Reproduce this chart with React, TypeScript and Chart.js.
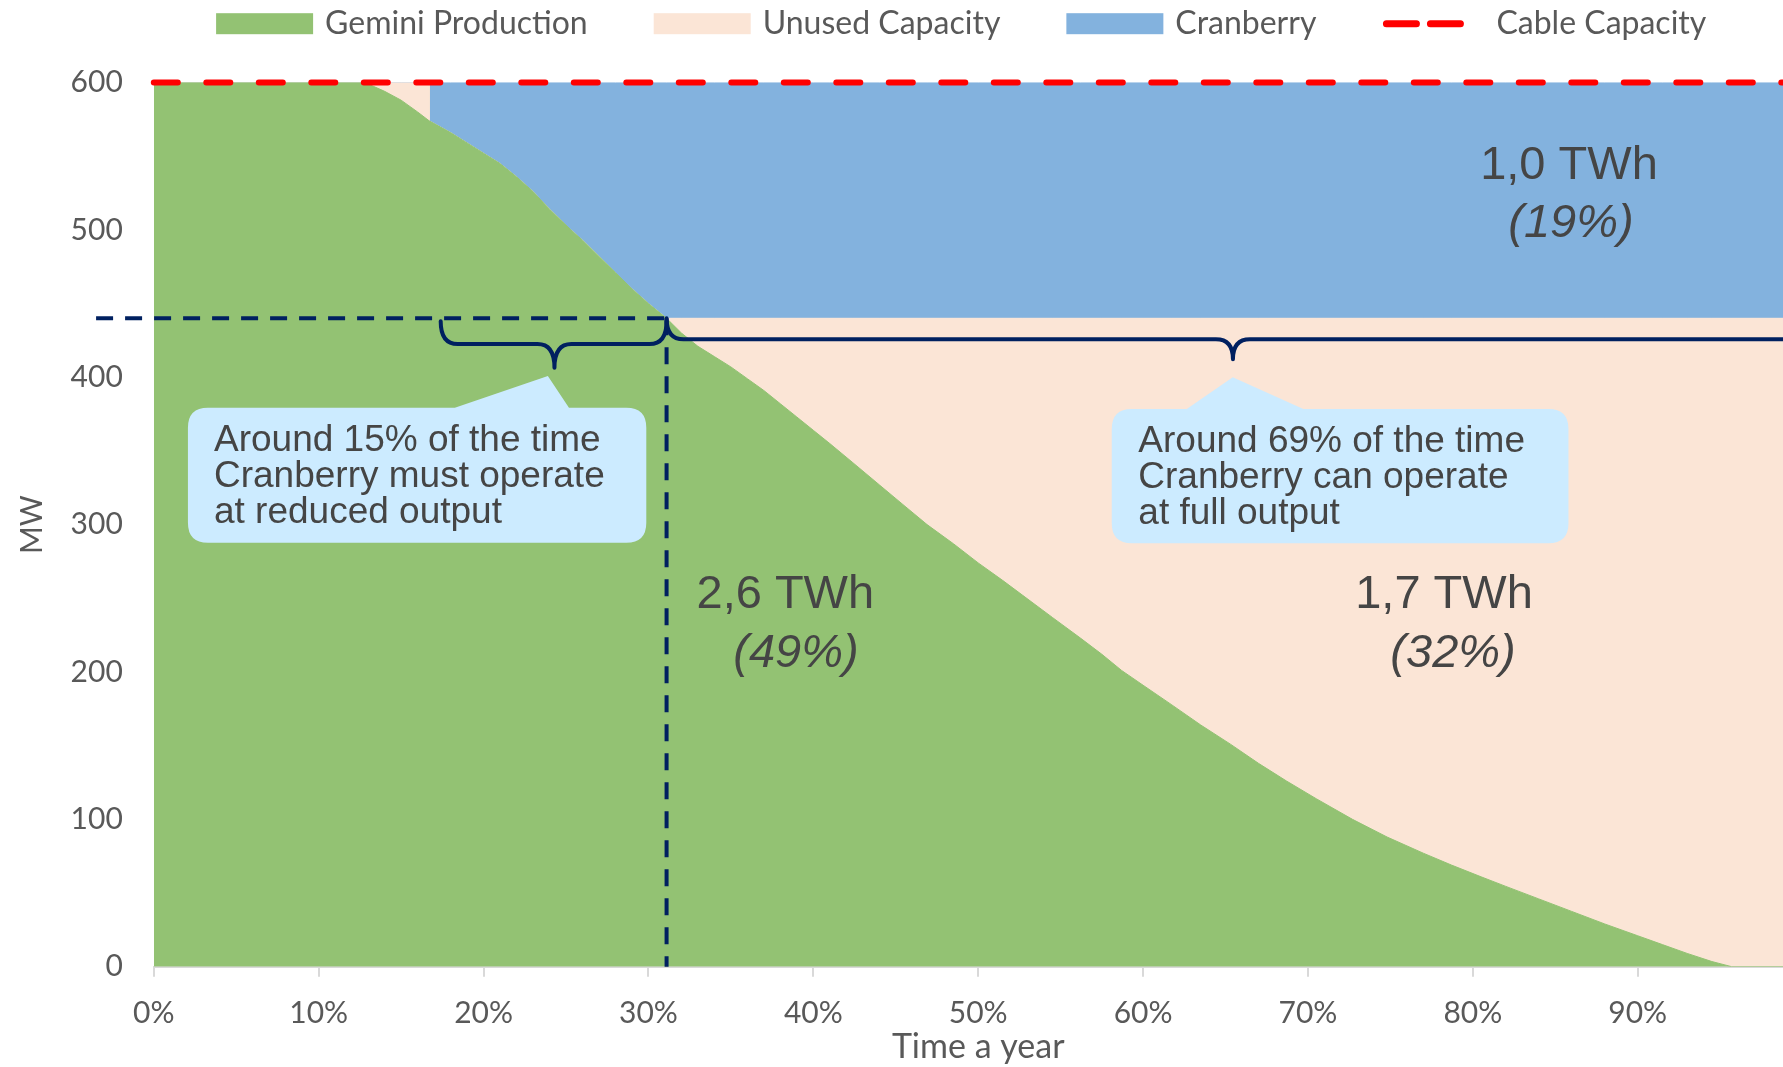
import React, { useEffect, useRef } from "react";
import { Chart, registerables } from "chart.js";

Chart.register(...registerables);

// ---- data (share of the year in %, power in MW) ----
const timeShare = [
  0, 12.8, 14, 15, 16, 16.7, 16.7, 18, 19, 20,
  21, 22, 23, 24, 25.3, 26, 27, 28, 29, 30,
  31.1, 32, 33, 34, 35, 36, 37, 38, 39, 40,
  41, 42.4, 44, 45.5, 46.9, 48.5, 50, 51.5, 52.7, 54.5,
  56.2, 57.5, 58.7, 60, 61.7, 63.5, 65.3, 67, 68.7, 70.5,
  72.7, 74.8, 77, 78.7, 80.5, 82, 84, 86, 88, 90,
  91.5, 93, 94.5, 95.7, 100,
];
const geminiMW = [
  600, 600, 594, 588, 580, 574, 574, 566, 559, 552,
  545, 536, 526, 514, 500, 493, 482, 471, 460, 450,
  440, 430, 421, 414, 407, 399, 391, 382, 373, 364,
  355, 342, 327, 313, 300, 287, 274, 262, 252, 237,
  223, 212, 201, 191, 178, 164, 151, 138, 126, 114,
  100, 88, 77, 69, 61, 54.5, 46, 37.5, 29, 21,
  15, 9, 3.5, 0, 0,
];
const unusedMW = [
  0, 0, 6, 12, 20, 26, 0, 0, 0, 0,
  0, 0, 0, 0, 0, 0, 0, 0, 0, 0,
  0, 10, 19, 26, 33, 41, 49, 58, 67, 76,
  85, 98, 113, 127, 140, 153, 166, 178, 188, 203,
  217, 228, 239, 249, 262, 276, 289, 302, 314, 326,
  340, 352, 363, 371, 379, 385.5, 394, 402.5, 411, 419,
  425, 431, 436.5, 440, 440,
];
const cranberryMW = [
  0, 0, 0, 0, 0, 0, 26, 34, 41, 48,
  55, 64, 74, 86, 100, 107, 118, 129, 140, 150,
  160, 160, 160, 160, 160, 160, 160, 160, 160, 160,
  160, 160, 160, 160, 160, 160, 160, 160, 160, 160,
  160, 160, 160, 160, 160, 160, 160, 160, 160, 160,
  160, 160, 160, 160, 160, 160, 160, 160, 160, 160,
  160, 160, 160, 160, 160,
];
const cableShare = [0, 100];
const cableMW = [600, 600];

const seriesLabels = ["Gemini Production", "Unused Capacity", "Cranberry", "Cable Capacity"];
const xTickValues = [0, 10, 20, 30, 40, 50, 60, 70, 80, 90];

// ---- annotations (in data units) ----
const thresholdMW = 440;
const splitShare = 31.1;
const dashStartShare = -3.5;
const braceLeft = { from: 17.4, to: 31.1, tip: 24.3, top: 438, bar: 422.5, tipY: 406.5 };
const braceRight = { from: 31.1, to: 106, tip: 65.45, top: 440, bar: 425.7, tipY: 412.2 };
const calloutLeft = {
  x0: 2.07, x1: 29.87, yTop: 379.3, yBot: 287.6,
  b0: 18.26, b1: 25.18, tipX: 23.9, tipY: 400.9,
  textX: 3.65, textY: 350.1,
  lines: ["Around 15% of the time", "Cranberry must operate", "at reduced output"],
};
const calloutRight = {
  x0: 58.1, x1: 85.8, yTop: 378.4, yBot: 287.3,
  b0: 62.65, b1: 69.72, tipX: 65.44, tipY: 400,
  textX: 59.71, textY: 349.4,
  lines: ["Around 69% of the time", "Cranberry can operate", "at full output"],
};
const energyLabels = [
  { main: "1,0 TWh", pct: "(19%)", x: 85.83, px: 85.95, y: 534.5, py: 495.2 },
  { main: "2,6 TWh", pct: "(49%)", x: 38.3, px: 38.95, y: 243.2, py: 203.6 },
  { main: "1,7 TWh", pct: "(32%)", x: 78.25, px: 78.8, y: 243.2, py: 203.6 },
];

// ---- styles ----
const GREEN = "#93C273";
const PEACH = "#FBE5D6";
const BLUE = "#83B2DE";
const RED = "#FF0000";
const NAVY = "#002060";
const CALLOUT = "#CCEBFF";
const TEXT_DARK = "#454545";
const AXIS_TEXT = "#595959";
const AXIS_FONT = "Lato";
const NOTE_FONT = "'Liberation Sans', Arial, sans-serif";

function pts(xs: number[], ys: number[]) {
  return xs.map((x, i) => ({ x, y: ys[i] }));
}

function drawBrace(ctx: CanvasRenderingContext2D, px: (v: number) => number, py: (v: number) => number, b: any) {
  const x0 = px(b.from), x1 = px(b.to), xm = px(b.tip);
  const yTop = py(b.top), yBar = py(b.bar), yTip = py(b.tipY);
  const r = 17;
  ctx.beginPath();
  ctx.moveTo(x0, yTop);
  ctx.quadraticCurveTo(x0, yBar, x0 + r, yBar);
  ctx.lineTo(xm - r, yBar);
  ctx.quadraticCurveTo(xm, yBar, xm, yTip);
  ctx.quadraticCurveTo(xm, yBar, xm + r, yBar);
  ctx.lineTo(x1 - r, yBar);
  ctx.quadraticCurveTo(x1, yBar, x1, yTop);
  ctx.stroke();
}

function drawCallout(ctx: CanvasRenderingContext2D, px: (v: number) => number, py: (v: number) => number, c: any) {
  const x0 = px(c.x0), x1 = px(c.x1), y0 = py(c.yTop), y1 = py(c.yBot);
  const r = 20;
  ctx.fillStyle = CALLOUT;
  ctx.beginPath();
  ctx.moveTo(x0 + r, y0);
  ctx.lineTo(px(c.b0), y0);
  ctx.lineTo(px(c.tipX), py(c.tipY));
  ctx.lineTo(px(c.b1), y0);
  ctx.lineTo(x1 - r, y0);
  ctx.quadraticCurveTo(x1, y0, x1, y0 + r);
  ctx.lineTo(x1, y1 - r);
  ctx.quadraticCurveTo(x1, y1, x1 - r, y1);
  ctx.lineTo(x0 + r, y1);
  ctx.quadraticCurveTo(x0, y1, x0, y1 - r);
  ctx.lineTo(x0, y0 + r);
  ctx.quadraticCurveTo(x0, y0, x0 + r, y0);
  ctx.closePath();
  ctx.fill();
  ctx.fillStyle = TEXT_DARK;
  ctx.font = `37px ${NOTE_FONT}`;
  ctx.textAlign = "left";
  ctx.textBaseline = "alphabetic";
  const tx = px(c.textX);
  const ty = py(c.textY);
  c.lines.forEach((line: string, i: number) => ctx.fillText(line, tx, ty + i * 36));
}

const annotationPlugin = {
  id: "annotations",
  afterDraw(chart: any) {
    const { ctx, scales } = chart;
    const xs = scales.x, ys = scales.y;
    const px = (v: number) => xs.getPixelForValue(v);
    const py = (v: number) => ys.getPixelForValue(v);
    ctx.save();

    // threshold dashed lines
    ctx.strokeStyle = NAVY;
    ctx.lineWidth = 4;
    ctx.setLineDash([17, 12]);
    ctx.beginPath();
    ctx.moveTo(px(dashStartShare), py(thresholdMW));
    ctx.lineTo(px(splitShare), py(thresholdMW));
    ctx.stroke();
    ctx.beginPath();
    ctx.moveTo(px(splitShare), py(thresholdMW));
    ctx.lineTo(px(splitShare), py(0));
    ctx.stroke();
    ctx.setLineDash([]);

    // braces
    ctx.lineWidth = 4;
    ctx.lineCap = "round";
    ctx.lineJoin = "round";
    drawBrace(ctx, px, py, braceLeft);
    drawBrace(ctx, px, py, braceRight);

    // callouts
    drawCallout(ctx, px, py, calloutLeft);
    drawCallout(ctx, px, py, calloutRight);

    // energy labels
    ctx.fillStyle = TEXT_DARK;
    ctx.textAlign = "center";
    ctx.textBaseline = "alphabetic";
    energyLabels.forEach((l) => {
      ctx.font = `47px ${NOTE_FONT}`;
      ctx.fillText(l.main, px(l.x), py(l.y));
      ctx.font = `italic 47px ${NOTE_FONT}`;
      ctx.fillText(l.pct, px(l.px), py(l.py));
    });

    // legend
    ctx.font = `32px ${AXIS_FONT}`;
    const BOX_W = 97, BOX_H = 21, BOX_GAP = 12, LINE_W = 82, LINE_GAP = 32, ITEM_GAP = 66;
    const items = chart.data.datasets.map((ds: any) => ({
      label: ds.label,
      isLine: ds.stack === "cable",
      color: ds.stack === "cable" ? ds.borderColor : ds.backgroundColor,
    }));
    const widths = items.map((it: any) => (it.isLine ? LINE_W + LINE_GAP : BOX_W + BOX_GAP) + ctx.measureText(it.label).width);
    const total = widths.reduce((a: number, b: number) => a + b, 0) + ITEM_GAP * (items.length - 1);
    const legendCenter = (chart.chartArea.left + chart.chartArea.right) / 2 - 17;
    let cx = legendCenter - total / 2;
    const midY = 23.7;
    items.forEach((it: any, i: number) => {
      if (it.isLine) {
        ctx.strokeStyle = it.color;
        ctx.lineWidth = 7;
        ctx.lineCap = "round";
        ctx.setLineDash([30, 14]);
        ctx.beginPath();
        ctx.moveTo(cx + 4, midY);
        ctx.lineTo(cx + LINE_W - 4, midY);
        ctx.stroke();
        ctx.setLineDash([]);
      } else {
        ctx.fillStyle = it.color;
        ctx.fillRect(cx, midY - BOX_H / 2, BOX_W, BOX_H);
      }
      ctx.fillStyle = AXIS_TEXT;
      ctx.textAlign = "left";
      ctx.textBaseline = "alphabetic";
      ctx.fillText(it.label, cx + (it.isLine ? LINE_W + LINE_GAP : BOX_W + BOX_GAP), 34);
      cx += widths[i] + ITEM_GAP;
    });

    ctx.restore();
  },
};

export default function App() {
  const ref = useRef<HTMLCanvasElement>(null);
  useEffect(() => {
    const canvas = ref.current;
    if (!canvas) return;
    const chart = new Chart(canvas, {
      type: "line",
      data: {
        datasets: [
          {
            label: seriesLabels[0],
            data: pts(timeShare, geminiMW),
            backgroundColor: GREEN,
            borderColor: GREEN,
            borderWidth: 1,
            fill: "origin",
            pointRadius: 0,
            stack: "supply",
          },
          {
            label: seriesLabels[1],
            data: pts(timeShare, unusedMW),
            backgroundColor: PEACH,
            borderColor: PEACH,
            borderWidth: 1,
            fill: "-1",
            pointRadius: 0,
            stack: "supply",
          },
          {
            label: seriesLabels[2],
            data: pts(timeShare, cranberryMW),
            backgroundColor: BLUE,
            borderColor: BLUE,
            borderWidth: 1,
            fill: "-1",
            pointRadius: 0,
            stack: "supply",
          },
          {
            label: seriesLabels[3],
            data: pts(cableShare, cableMW),
            borderColor: RED,
            backgroundColor: RED,
            borderWidth: 6,
            borderDash: [24, 28.5],
            borderCapStyle: "round",
            fill: false,
            pointRadius: 0,
            stack: "cable",
            order: -1,
            clip: false,
          },
        ] as any,
      },
      options: {
        responsive: false,
        animation: false,
        layout: { padding: { top: 82.5, right: 9.4, left: 0, bottom: 0 } },
        plugins: { legend: { display: false }, tooltip: { enabled: false } },
        elements: { line: { tension: 0 }, point: { radius: 0 } },
        scales: {
          x: {
            type: "linear",
            min: 0,
            max: 100,
            z: 1,
            afterBuildTicks: (s: any) => {
              s.ticks = xTickValues.map((v) => ({ value: v }));
            },
            ticks: {
              callback: (v: any) => `${v}%`,
              color: AXIS_TEXT,
              font: { family: AXIS_FONT, size: 30 },
              padding: 19,
              maxRotation: 0,
              autoSkip: false,
            },
            grid: { drawOnChartArea: false, drawTicks: true, tickLength: 10, color: "#D9D9D9", lineWidth: 2 },
            border: { display: true, color: "#D9D9D9", width: 2 },
            title: {
              display: true,
              text: "Time a year",
              color: AXIS_TEXT,
              font: { family: AXIS_FONT, size: 34 },
              padding: { top: 0, bottom: 0 },
            },
            afterFit: (s: any) => {
              s.height = 100.3;
            },
          },
          y: {
            type: "linear",
            min: 0,
            max: 600,
            stacked: true,
            z: 1,
            ticks: {
              stepSize: 100,
              color: AXIS_TEXT,
              font: { family: AXIS_FONT, size: 30 },
              padding: 31,
            },
            grid: {
              drawTicks: false,
              lineWidth: 2,
              color: (c: any) => (c.tick && (c.tick.value === 0 || c.tick.value === 600) ? "rgba(0,0,0,0)" : "rgba(0,0,0,0.08)"),
            },
            border: { display: false },
            title: {
              display: true,
              text: "MW",
              color: AXIS_TEXT,
              font: { family: AXIS_FONT, size: 30 },
              padding: { top: 14, bottom: 0 },
            },
            afterFit: (s: any) => {
              s.width = 153.8;
            },
          },
        },
      } as any,
      plugins: [annotationPlugin],
    });
    return () => chart.destroy();
  }, []);

  return (
    <div style={{ position: "absolute", left: 0, top: 0, width: 1783, height: 1067, overflow: "hidden", background: "#fff" }}>
      <canvas ref={ref} width={1812} height={1067} style={{ display: "block", width: 1812, height: 1067 }} />
    </div>
  );
}
